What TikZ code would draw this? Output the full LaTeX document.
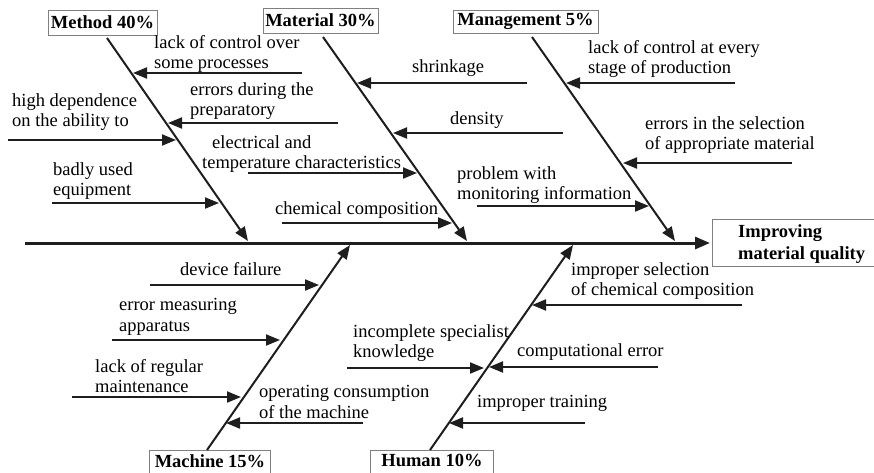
\documentclass[tikz,border=0pt]{standalone}
\usepackage{fontspec}
\setmainfont{Liberation Serif}
\usetikzlibrary{arrows.meta}
\definecolor{ink}{HTML}{1E1E1E}
\definecolor{boxline}{HTML}{808080}
\tikzset{
  lbl/.style={anchor=west, inner sep=0pt, align=left, font=\fontsize{18.5}{20.5}\selectfont, text=black},
  catbox/.style={draw=boxline, line width=1pt, inner sep=0pt, font=\bfseries\fontsize{18.5}{20}\selectfont},
  opencat/.style={inner sep=0pt, font=\bfseries\fontsize{18.5}{20}\selectfont},
  bone/.style={draw=ink, line width=2pt, -{Triangle[length=14pt,width=11pt]}},
  rib/.style={draw=ink, line width=2pt, -{Triangle[length=14pt,width=11pt]}},
  spine/.style={draw=ink, line width=3pt, -{Triangle[length=15pt,width=12pt]}},
  openbox/.style={draw=boxline, line width=1pt}
}
\begin{document}
\begin{tikzpicture}[x=1pt,y=-1pt]
\useasboundingbox (0,0) rectangle (874,472);
% category boxes
\node[catbox, minimum width=109pt, minimum height=25pt] (method) at (102.5,22.5) {Method 40\%};
\node[catbox, minimum width=115pt, minimum height=25pt] (material) at (320.5,20.5) {Material 30\%};
\node[catbox, minimum width=145pt, minimum height=23pt] (management) at (525.5,21.5) {Management 5\%};
\node[opencat, minimum width=120pt, minimum height=21.5pt, anchor=north] (machine) at (210,450) {Machine 15\%};
\node[opencat, minimum width=122pt, minimum height=21.5pt, anchor=north] (human) at (432,450) {Human 10\%};
\draw[openbox] ([yshift=-2pt]machine.south west) -- (machine.north west) -- (machine.north east) -- ([yshift=-2pt]machine.south east);
\draw[openbox] ([yshift=-2pt]human.south west) -- (human.north west) -- (human.north east) -- ([yshift=-2pt]human.south east);
% effect box
\node[draw=boxline, line width=1pt, minimum width=163pt, minimum height=47pt, anchor=north west, inner sep=0pt] (effect) at (712,219) {};
\node[lbl, font=\bfseries\fontsize{18.5}{22}\selectfont] (effecttxt) at (738,244) {Improving\\material quality};
% spine
\coordinate (spineL) at (25,243);
\coordinate (spineR) at (710,243);
\draw[spine] (spineL) -- (spineR);
% bones
\coordinate (mS) at (107,38);  \coordinate (mE) at (248,241);
\coordinate (tS) at (323,37);  \coordinate (tE) at (467,241);
\coordinate (gS) at (532,37);  \coordinate (gE) at (675,241);
\coordinate (cS) at (207,450); \coordinate (cE) at (350,245);
\coordinate (hS) at (430,450); \coordinate (hE) at (573,245);
\draw[bone] (mS) -- (mE);
\draw[bone] (tS) -- (tE);
\draw[bone] (gS) -- (gE);
\draw[bone] (cS) -- (cE);
\draw[bone] (hS) -- (hE);
% ribs: Method
\coordinate (a1s) at (302,73);  \coordinate (a1e) at (133,73);
\coordinate (a2s) at (338,123); \coordinate (a2e) at (168,123);
\coordinate (a3s) at (8,140);   \coordinate (a3e) at (176,140);
\coordinate (a5s) at (52,203);  \coordinate (a5e) at (219,203);
% ribs: Material
\coordinate (a4s) at (248,173); \coordinate (a4e) at (417,173);
\coordinate (a6s) at (282,223); \coordinate (a6e) at (452,223);
\coordinate (a7s) at (527,83);  \coordinate (a7e) at (357,83);
\coordinate (a8s) at (563,133); \coordinate (a8e) at (393,133);
% ribs: Management
\coordinate (a9s) at (477,206); \coordinate (a9e) at (649,206);
\coordinate (a10s) at (735,83); \coordinate (a10e) at (566,83);
\coordinate (a11s) at (792,163);\coordinate (a11e) at (623,163);
% ribs: Machine
\coordinate (b1s) at (150,285); \coordinate (b1e) at (319,285);
\coordinate (b2s) at (112,340); \coordinate (b2e) at (280,340);
\coordinate (b3s) at (72,397);  \coordinate (b3e) at (241,397);
\coordinate (b4s) at (363,423); \coordinate (b4e) at (226,423);
% ribs: Human
\coordinate (b5s) at (347,368); \coordinate (b5e) at (484,368);
\coordinate (b6s) at (742,305); \coordinate (b6e) at (532,305);
\coordinate (b7s) at (658,367); \coordinate (b7e) at (489,367);
\coordinate (b8s) at (585,423); \coordinate (b8e) at (449,423);
\foreach \r in {a1,a2,a3,a4,a5,a6,a7,a8,a9,a10,a11,b1,b2,b3,b4,b5,b6,b7,b8}
  \draw[rib] (\r s) -- (\r e);
% labels
\node[lbl] (t1) at (154,54) {lack of control over\\some processes};
\node[lbl] (t2) at (190,101) {errors during the\\preparatory};
\node[lbl] (t3) at (12,112) {high dependence\\on the ability to};
\node[lbl] (t4) at (202,154) {\hspace*{10pt}electrical and\\temperature characteristics};
\node[lbl] (t5) at (53,181) {badly used\\equipment};
\node[lbl] (t6) at (275,210) {chemical composition};
\node[lbl] (t7) at (412,68) {shrinkage};
\node[lbl] (t8) at (450,120) {density};
\node[lbl] (t9) at (457,185) {problem with\\monitoring information};
\node[lbl] (t10) at (588,59) {lack of control at every\\stage of production};
\node[lbl] (t11) at (645,135) {errors in the selection\\of appropriate material};
\node[lbl] (t12) at (180,269) {device failure};
\node[lbl] (t13) at (119,317) {error measuring\\apparatus};
\node[lbl] (t14) at (95,376) {lack of regular\\maintenance};
\node[lbl] (t15) at (259,402) {operating consumption\\of the machine};
\node[lbl] (t16) at (353,343) {incomplete specialist\\knowledge};
\node[lbl] (t17) at (571,281) {improper selection\\of chemical composition};
\node[lbl] (t18) at (517,352) {computational error};
\node[lbl] (t19) at (477,403) {improper training};
\end{tikzpicture}
\end{document}
